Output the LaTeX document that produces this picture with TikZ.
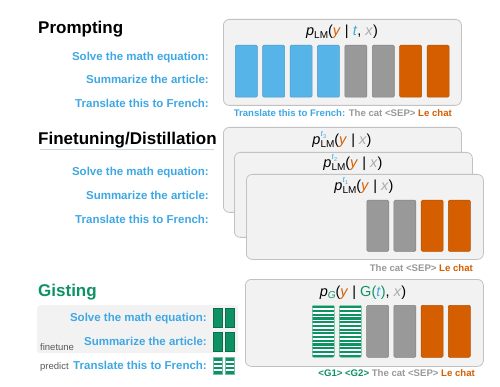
\documentclass[tikz,border=0pt]{standalone}
\usepackage{fontspec}
\setmainfont{Liberation Sans}
\definecolor{tblue}{HTML}{3FA8E3}
\definecolor{bblue}{HTML}{56B4E9}
\definecolor{bgray}{HTML}{999999}
\definecolor{lgray}{HTML}{AAAAAA}
\definecolor{borange}{HTML}{D55E00}
\definecolor{ggreen}{HTML}{0E9264}
\definecolor{boxfill}{HTML}{F2F2F2}
\definecolor{boxline}{HTML}{C2C2C2}
\definecolor{ulblue}{HTML}{C9D8E6}
\newcommand{\myP}{\textit{p}}
\newcommand{\mySubLM}{\raisebox{-0.35ex}{\fontsize{10}{10}\selectfont LM}}
\newcommand{\myT}[1]{\textcolor{tblue}{\textit{#1}}}
\newcommand{\myY}{\textcolor{borange}{\textit{y}}}
\newcommand{\myX}{\textcolor{lgray}{\textit{x}}}
\newcommand{\mySup}[1]{\rlap{\raisebox{1.1ex}{\fontsize{8}{8}\selectfont\myT{t}\raisebox{-0.35ex}{\fontsize{5.5}{5.5}\selectfont\textcolor{tblue}{#1}}}}}
\begin{document}
\begin{tikzpicture}[x=1pt,y=-1pt,
  titletext/.style={font=\fontsize{17}{20}\selectfont\bfseries, anchor=base west, inner sep=0},
  tasktext/.style={font=\fontsize{11.5}{13}\selectfont\bfseries, text=tblue, anchor=base east, inner sep=0},
  panel/.style={draw=boxline, fill=boxfill, rounded corners=6pt, line width=0.8pt, anchor=north west, inner sep=0},
  tokbar/.style={minimum width=22pt, minimum height=52pt, inner sep=0, rounded corners=1.2pt, anchor=north west, line width=0.5pt},
  bluebar/.style={tokbar, fill=bblue, draw=bblue!85!black},
  graybar/.style={tokbar, fill=bgray, draw=bgray!85!black},
  orangebar/.style={tokbar, fill=borange, draw=borange!85!black},
  stripebar/.style={tokbar, fill=white, draw=ggreen!70, path picture={
    \foreach \k in {1,...,14} {\draw[ggreen, line width=2.1pt]
      ([yshift=-\k*3.71pt+1.6pt]path picture bounding box.north west) --
      ([yshift=-\k*3.71pt+1.6pt]path picture bounding box.north east);}}},
  gsolid/.style={minimum width=9pt, minimum height=19pt, inner sep=0, anchor=north west, fill=ggreen, draw=ggreen!75!black, line width=0.5pt},
  gstripe/.style={minimum width=9pt, minimum height=17pt, inner sep=0, anchor=north west, fill=white, draw=ggreen!60, line width=0.4pt, path picture={
    \foreach \k in {1,...,4} {\draw[ggreen, line width=2.4pt]
      ([yshift=-\k*4.25pt+1.9pt]path picture bounding box.north west) --
      ([yshift=-\k*4.25pt+1.9pt]path picture bounding box.north east);}}},
  captext/.style={font=\fontsize{9.6}{11}\selectfont\bfseries, anchor=base east, inner sep=0},
  probtext/.style={font=\fontsize{14.5}{16}\selectfont, anchor=base, inner sep=0},
  smalltext/.style={font=\fontsize{9.5}{11}\selectfont, text=black!65, anchor=base west, inner sep=0}
]
\useasboundingbox (0,0) rectangle (500,387);
\fill[white] (0,0) rectangle (500,387);

% ---------- Prompting ----------
\node[titletext] (t1) at (38,34) {Prompting};
\node[tasktext] (p1) at (209,61) {Solve the math equation:};
\node[tasktext] (p2) at (209,84) {Summarize the article:};
\node[tasktext] (p3) at (209,108) {Translate this to French:};
\node[panel, minimum width=238pt, minimum height=86pt] (pbox) at (223,19) {};
\node[probtext] (plab) at (342,36) {\myP\mySubLM(\myY{} | \myT{t}, \myX)};
\foreach \i/\s in {0/bluebar,1/bluebar,2/bluebar,3/bluebar,4/graybar,5/graybar,6/orangebar,7/orangebar}
  \node[\s] (pb\i) at (235+\i*27.4,45) {};
\node[captext] (pcap) at (452,117) {\textcolor{tblue}{Translate this to French:} \textcolor{bgray}{The cat <SEP>} \textcolor{borange}{Le chat}};

% ---------- Finetuning ----------
\node[titletext] (t2) at (38,145) {Finetuning/Distillation};
\draw[ulblue, line width=0.8pt] (40,149.5) -- (214,149.5);
\node[tasktext] (f1) at (209,176) {Solve the math equation:};
\node[tasktext] (f2) at (209,200) {Summarize the article:};
\node[tasktext] (f3) at (209,224) {Translate this to French:};
\node[panel, minimum width=238pt, minimum height=85pt] (fbox3) at (223,127) {};
\node[probtext] (flab3) at (342,145) {\myP\mySup{3}\mySubLM(\myY{} | \myX)};
\node[panel, minimum width=238pt, minimum height=85pt] (fbox2) at (234,152) {};
\node[probtext] (flab2) at (353,168) {\myP\mySup{2}\mySubLM(\myY{} | \myX)};
\node[panel, minimum width=237pt, minimum height=85pt] (fbox1) at (246,174) {};
\node[probtext] (flab1) at (364,191) {\myP\mySup{1}\mySubLM(\myY{} | \myX)};
\foreach \i/\s in {0/graybar,1/graybar,2/orangebar,3/orangebar}
  \node[\s, minimum height=51pt] (fb\i) at (366.5+\i*27.2,200) {};
\node[captext] (fcap) at (473,271) {\textcolor{bgray}{The cat <SEP>} \textcolor{borange}{Le chat}};

% ---------- Gisting ----------
\node[titletext, text=ggreen] (t3) at (38,296) {Gisting};
\node[fill=boxfill, rounded corners=3pt, minimum width=201pt, minimum height=48pt, inner sep=0, anchor=north west] (gbg) at (37,305) {};
\node[tasktext] (g1) at (207,321) {Solve the math equation:};
\node[tasktext] (g2) at (207,345) {Summarize the article:};
\node[tasktext] (g3) at (207,369) {Translate this to French:};
\node[smalltext] (ft) at (40,350) {finetune};
\node[smalltext] (pr) at (40,369) {predict};
\foreach \j in {0,1} {
  \node[gsolid] (gs1\j) at (213+\j*12,308) {};
  \node[gsolid] (gs2\j) at (213+\j*12,332) {};
  \node[gstripe] (gs3\j) at (213+\j*12,357) {};
}
\node[panel, minimum width=238pt, minimum height=87pt] (gbox) at (245,279) {};
\node[probtext] (glab) at (363,296) {\myP\raisebox{-0.35ex}{\fontsize{10}{10}\selectfont\textcolor{ggreen}{\textit{G}}}(\myY{} | \textcolor{ggreen}{G(}\myT{t}\textcolor{ggreen}{)}, \myX)};
\foreach \i/\s in {0/stripebar,1/stripebar,2/graybar,3/graybar,4/orangebar,5/orangebar}
  \node[\s] (gb\i) at (312+\i*27.2,305) {};
\node[captext] (gcap) at (475,376) {\textcolor{ggreen}{<G1> <G2>} \textcolor{bgray}{The cat <SEP>} \textcolor{borange}{Le chat}};
\end{tikzpicture}
\end{document}
